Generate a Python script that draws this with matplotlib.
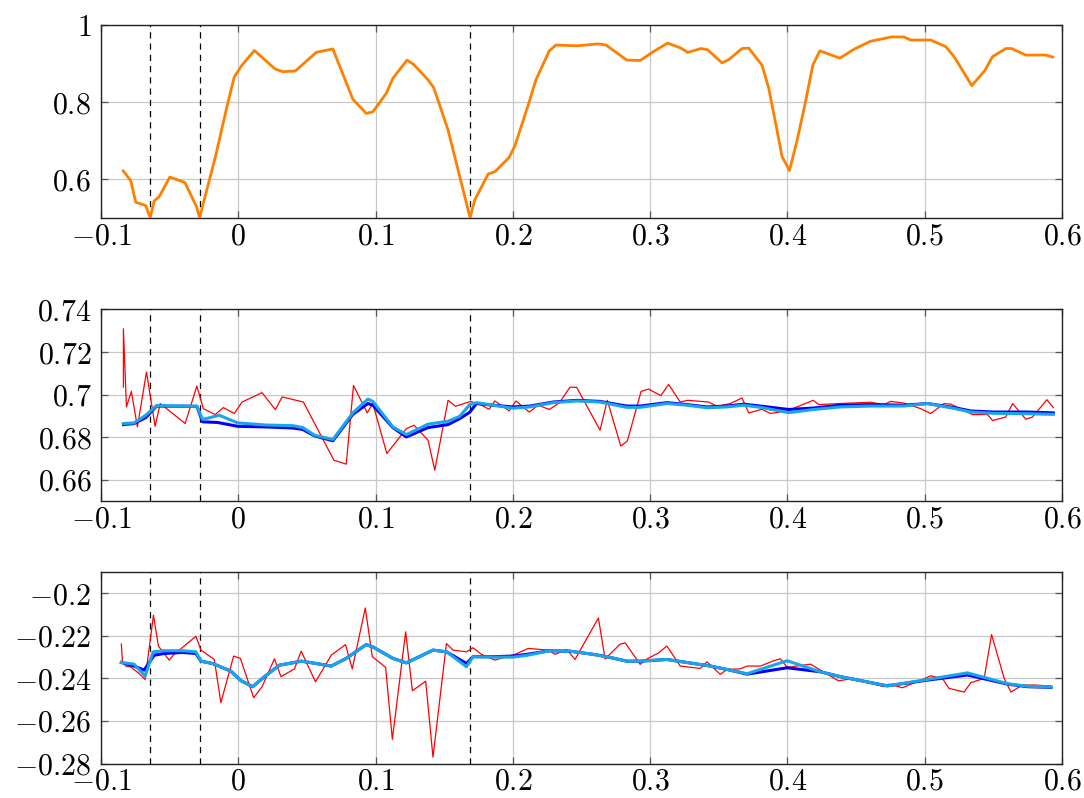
import matplotlib
matplotlib.use("Agg")
import matplotlib.pyplot as plt
from matplotlib.ticker import FuncFormatter

plt.rcParams['mathtext.fontset'] = 'cm'
plt.rcParams['font.family'] = ['DejaVu Serif']

# ---------------- data ----------------
vlines_x = [-0.0642, -0.0282, 0.1688]

top_x = [-0.0839, -0.0820, -0.0783, -0.0747, -0.0674, -0.0642, -0.0613, -0.0577, -0.0499, -0.0389,
         -0.0304, -0.0282, -0.0236, -0.0168, -0.0083, -0.0029, 0.0027, 0.0117, 0.0268, 0.0324,
         0.0416, 0.0567, 0.0689, 0.0834, 0.0932, 0.0980, 0.1078, 0.1126, 0.1229, 0.1277,
         0.1382, 0.1423, 0.1528, 0.1688, 0.1723, 0.1820, 0.1869, 0.1973, 0.2015, 0.2112,
         0.2168, 0.2265, 0.2314, 0.2465, 0.2623, 0.2679, 0.2830, 0.2927, 0.3024, 0.3127,
         0.3219, 0.3275, 0.3370, 0.3418, 0.3523, 0.3572, 0.3669, 0.3718, 0.3815, 0.3864,
         0.3912, 0.3961, 0.4015, 0.4071, 0.4124, 0.4185, 0.4236, 0.4382, 0.4484, 0.4606,
         0.4679, 0.4757, 0.4849, 0.4898, 0.5044, 0.5153, 0.5214, 0.5343, 0.5438, 0.5494,
         0.5591, 0.5633, 0.5737, 0.5883, 0.5932]
top_y = [0.622, 0.614, 0.596, 0.541, 0.532, 0.501, 0.544, 0.555, 0.606, 0.592,
         0.529, 0.501, 0.564, 0.657, 0.788, 0.866, 0.896, 0.934, 0.886, 0.879,
         0.881, 0.929, 0.938, 0.808, 0.771, 0.775, 0.823, 0.862, 0.909, 0.898,
         0.858, 0.838, 0.728, 0.501, 0.547, 0.614, 0.620, 0.657, 0.687, 0.793,
         0.858, 0.933, 0.948, 0.946, 0.951, 0.948, 0.909, 0.908, 0.931, 0.953,
         0.941, 0.929, 0.939, 0.936, 0.902, 0.910, 0.939, 0.940, 0.896, 0.836,
         0.749, 0.659, 0.623, 0.702, 0.788, 0.896, 0.933, 0.914, 0.937, 0.958,
         0.963, 0.969, 0.969, 0.961, 0.961, 0.944, 0.918, 0.843, 0.882, 0.918,
         0.939, 0.939, 0.922, 0.922, 0.917]

mid_red_x = [-0.0837, -0.0837, -0.0815, -0.0779, -0.0735, -0.0669, -0.0606, -0.0569, -0.0387, -0.0302,
             -0.0255, -0.0168, -0.0109, -0.0029, 0.0027, 0.0173, 0.0270, 0.0319, 0.0474, 0.0696,
             0.0786, 0.0839, 0.0939, 0.0980, 0.1082, 0.1224, 0.1280, 0.1382, 0.1431, 0.1528,
             0.1582, 0.1693, 0.1771, 0.1827, 0.1869, 0.1973, 0.2022, 0.2119, 0.2185, 0.2265,
             0.2338, 0.2416, 0.2465, 0.2635, 0.2688, 0.2786, 0.2834, 0.2934, 0.2988, 0.3078,
             0.3134, 0.3219, 0.3275, 0.3426, 0.3487, 0.3584, 0.3669, 0.3718, 0.3815, 0.3876,
             0.3998, 0.4188, 0.4229, 0.4387, 0.4606, 0.4703, 0.4752, 0.4849, 0.4971, 0.5044,
             0.5141, 0.5190, 0.5348, 0.5458, 0.5494, 0.5591, 0.5640, 0.5737, 0.5786, 0.5890,
             0.5937]
mid_red_y = [0.7035, 0.7309, 0.6942, 0.7015, 0.6848, 0.7106, 0.6851, 0.6958, 0.6864, 0.7040,
             0.6934, 0.6906, 0.6939, 0.6911, 0.6965, 0.7009, 0.6929, 0.6989, 0.6965, 0.6692,
             0.6673, 0.7043, 0.6914, 0.6958, 0.6723, 0.6840, 0.6856, 0.6786, 0.6645, 0.6973,
             0.6945, 0.6968, 0.6950, 0.6931, 0.6970, 0.6923, 0.6970, 0.6918, 0.6950, 0.6930,
             0.6961, 0.7035, 0.7034, 0.6833, 0.6973, 0.6758, 0.6782, 0.7015, 0.7026, 0.6995,
             0.7048, 0.6965, 0.6973, 0.6965, 0.6945, 0.6958, 0.6984, 0.6914, 0.6931, 0.6911,
             0.6923, 0.6973, 0.6953, 0.6958, 0.6964, 0.6953, 0.6968, 0.6960, 0.6934, 0.6911,
             0.6958, 0.6955, 0.6906, 0.6906, 0.6878, 0.6895, 0.6958, 0.6884, 0.6895, 0.6976,
             0.6939]

mid_blue_x = [-0.0837, -0.0759, -0.0674, -0.0596, -0.0302, -0.0260, -0.0151, -0.0005, 0.0202, 0.0397,
              0.0470, 0.0555, 0.0689, 0.0834, 0.0944, 0.0980, 0.1126, 0.1224, 0.1382, 0.1528,
              0.1613, 0.1686, 0.1735, 0.1856, 0.2002, 0.2124, 0.2294, 0.2465, 0.2635, 0.2830,
              0.2927, 0.3122, 0.3268, 0.3414, 0.3560, 0.3681, 0.3803, 0.4010, 0.4192, 0.4387,
              0.4606, 0.4849, 0.5020, 0.5214, 0.5336, 0.5506, 0.5750, 0.5937]
mid_blue_y = [0.6859, 0.6864, 0.6892, 0.6946, 0.6945, 0.6872, 0.6869, 0.6851, 0.6848, 0.6843,
              0.6836, 0.6806, 0.6783, 0.6907, 0.6958, 0.6950, 0.6845, 0.6801, 0.6845, 0.6859,
              0.6887, 0.6917, 0.6958, 0.6950, 0.6942, 0.6946, 0.6965, 0.6973, 0.6968, 0.6946,
              0.6946, 0.6962, 0.6953, 0.6942, 0.6946, 0.6955, 0.6946, 0.6930, 0.6937, 0.6950,
              0.6953, 0.6950, 0.6958, 0.6939, 0.6923, 0.6918, 0.6918, 0.6914]

mid_cyan_x = [-0.0837, -0.0759, -0.0674, -0.0596, -0.0302, -0.0260, -0.0139, -0.0005, 0.0202, 0.0397,
              0.0470, 0.0555, 0.0689, 0.0834, 0.0944, 0.0980, 0.1126, 0.1224, 0.1382, 0.1528,
              0.1613, 0.1686, 0.1735, 0.1856, 0.2002, 0.2124, 0.2294, 0.2465, 0.2635, 0.2830,
              0.2927, 0.3122, 0.3268, 0.3414, 0.3560, 0.3681, 0.3803, 0.4010, 0.4192, 0.4387,
              0.4606, 0.4849, 0.5020, 0.5214, 0.5336, 0.5506, 0.5750, 0.5937]
mid_cyan_y = [0.6864, 0.6867, 0.6903, 0.6948, 0.6945, 0.6883, 0.6903, 0.6867, 0.6857, 0.6854,
              0.6845, 0.6809, 0.6789, 0.6914, 0.6979, 0.6968, 0.6848, 0.6812, 0.6861, 0.6875,
              0.6898, 0.6953, 0.6962, 0.6950, 0.6936, 0.6942, 0.6962, 0.6970, 0.6965, 0.6940,
              0.6940, 0.6958, 0.6950, 0.6938, 0.6942, 0.6950, 0.6940, 0.6915, 0.6930, 0.6942,
              0.6946, 0.6946, 0.6958, 0.6935, 0.6918, 0.6912, 0.6910, 0.6907]

bot_red_x = [-0.0852, -0.0844, -0.0820, -0.0779, -0.0723, -0.0679, -0.0618, -0.0582, -0.0504, -0.0467,
             -0.0387, -0.0309, -0.0272, -0.0175, -0.0127, -0.0034, 0.0015, 0.0112, 0.0173, 0.0263,
             0.0311, 0.0409, 0.0458, 0.0562, 0.0677, 0.0781, 0.0830, 0.0925, 0.0976, 0.1073,
             0.1122, 0.1219, 0.1268, 0.1365, 0.1418, 0.1516, 0.1564, 0.1662, 0.1710, 0.1771,
             0.1869, 0.1954, 0.2015, 0.2112, 0.2258, 0.2307, 0.2392, 0.2453, 0.2623, 0.2672,
             0.2781, 0.2818, 0.2927, 0.2976, 0.3061, 0.3122, 0.3219, 0.3365, 0.3414, 0.3511,
             0.3560, 0.3657, 0.3706, 0.3803, 0.3900, 0.3949, 0.3998, 0.4168, 0.4241, 0.4363,
             0.4375, 0.4484, 0.4606, 0.4703, 0.4740, 0.4837, 0.4971, 0.5044, 0.5129, 0.5177,
             0.5287, 0.5336, 0.5433, 0.5487, 0.5579, 0.5628, 0.5713, 0.5798, 0.5920]
bot_red_y = [-0.2239, -0.2322, -0.2342, -0.2348, -0.2377, -0.2405, -0.2103, -0.2248, -0.2314, -0.2286,
             -0.2244, -0.2202, -0.2267, -0.2311, -0.2514, -0.2295, -0.2306, -0.2491, -0.2439, -0.2308,
             -0.2392, -0.2355, -0.2272, -0.2416, -0.2291, -0.2241, -0.2355, -0.2069, -0.2298, -0.2348,
             -0.2686, -0.2181, -0.2458, -0.2413, -0.2770, -0.2236, -0.2267, -0.2275, -0.2256, -0.2287,
             -0.2314, -0.2298, -0.2287, -0.2259, -0.2267, -0.2287, -0.2264, -0.2311, -0.2116, -0.2309,
             -0.2239, -0.2233, -0.2334, -0.2309, -0.2280, -0.2248, -0.2342, -0.2353, -0.2322, -0.2381,
             -0.2358, -0.2355, -0.2342, -0.2342, -0.2317, -0.2308, -0.2348, -0.2333, -0.2361, -0.2408,
             -0.2411, -0.2400, -0.2423, -0.2439, -0.2427, -0.2444, -0.2408, -0.2388, -0.2400, -0.2447,
             -0.2464, -0.2420, -0.2400, -0.2194, -0.2400, -0.2464, -0.2431, -0.2431, -0.2436]

bot_blue_x = [-0.0852, -0.0759, -0.0686, -0.0613, -0.0540, -0.0407, -0.0309, -0.0272, -0.0187, -0.0054,
              0.0020, 0.0105, 0.0190, 0.0299, 0.0458, 0.0567, 0.0677, 0.0786, 0.0932, 0.0980,
              0.1126, 0.1224, 0.1418, 0.1516, 0.1662, 0.1710, 0.1856, 0.2002, 0.2100, 0.2270,
              0.2416, 0.2586, 0.2684, 0.2830, 0.2927, 0.3122, 0.3316, 0.3438, 0.3560, 0.3706,
              0.3998, 0.4241, 0.4387, 0.4727, 0.5020, 0.5312, 0.5604, 0.5750, 0.5920]
bot_blue_y = [-0.2325, -0.2342, -0.2361, -0.2291, -0.2283, -0.2278, -0.2283, -0.2319, -0.2330, -0.2366,
              -0.2411, -0.2439, -0.2392, -0.2338, -0.2319, -0.2330, -0.2342, -0.2306, -0.2241, -0.2252,
              -0.2306, -0.2327, -0.2267, -0.2275, -0.2330, -0.2298, -0.2298, -0.2295, -0.2287, -0.2270,
              -0.2272, -0.2287, -0.2298, -0.2319, -0.2319, -0.2311, -0.2330, -0.2342, -0.2358, -0.2380,
              -0.2350, -0.2369, -0.2392, -0.2435, -0.2408, -0.2384, -0.2427, -0.2439, -0.2442]

bot_cyan_x = [-0.0852, -0.0759, -0.0679, -0.0620, -0.0540, -0.0407, -0.0309, -0.0272, -0.0187, -0.0054,
              0.0020, 0.0105, 0.0190, 0.0299, 0.0458, 0.0567, 0.0677, 0.0786, 0.0932, 0.0980,
              0.1126, 0.1224, 0.1418, 0.1516, 0.1662, 0.1710, 0.1856, 0.2002, 0.2100, 0.2270,
              0.2416, 0.2586, 0.2684, 0.2830, 0.2927, 0.3122, 0.3316, 0.3438, 0.3560, 0.3706,
              0.3998, 0.4241, 0.4387, 0.4727, 0.5020, 0.5312, 0.5604, 0.5750, 0.5920]
bot_cyan_y = [-0.2325, -0.2333, -0.2389, -0.2275, -0.2270, -0.2270, -0.2275, -0.2319, -0.2330, -0.2366,
              -0.2411, -0.2439, -0.2392, -0.2338, -0.2319, -0.2330, -0.2342, -0.2306, -0.2241, -0.2252,
              -0.2306, -0.2327, -0.2267, -0.2275, -0.2345, -0.2298, -0.2300, -0.2300, -0.2292, -0.2270,
              -0.2272, -0.2287, -0.2298, -0.2319, -0.2319, -0.2311, -0.2330, -0.2342, -0.2358, -0.2378,
              -0.2317, -0.2369, -0.2392, -0.2435, -0.2405, -0.2374, -0.2425, -0.2437, -0.2440]

x_ticks = [-0.1, 0, 0.1, 0.2, 0.3, 0.4, 0.5, 0.6]
top_yticks = [0.6, 0.8, 1.0]
mid_yticks = [0.66, 0.68, 0.70, 0.72, 0.74]
bot_yticks = [-0.28, -0.26, -0.24, -0.22, -0.20]

ORANGE = '#ff7f00'
RED = '#ff0000'
BLUE = '#0000ff'
CYAN = '#1aa6e6'


def fmt(v, pos=None):
    s = ('%.2f' % v).rstrip('0').rstrip('.')
    if s in ('-0', ''):
        s = '0'
    return r'$%s$' % s


fig = plt.figure(figsize=(10.84, 7.98), dpi=100)
W = 0.8865
L = 0.0932
ax1 = fig.add_axes([L, 0.7268, W, 0.2419])
ax2 = fig.add_axes([L, 0.3722, W, 0.2400])
ax3 = fig.add_axes([L, 0.0432, W, 0.2400])


def style(ax, ylim, yticks):
    ax.set_xlim(-0.1, 0.6)
    ax.set_ylim(*ylim)
    ax.set_xticks(x_ticks)
    ax.set_yticks(yticks)
    ax.xaxis.set_major_formatter(FuncFormatter(fmt))
    ax.yaxis.set_major_formatter(FuncFormatter(fmt))
    ax.grid(True, color='#c8c8c8', linewidth=0.9)
    ax.set_axisbelow(True)
    ax.tick_params(direction='in', length=5, width=0.9, color='#555555',
                   top=True, right=True, labelsize=21.5)
    ax.tick_params(axis='x', pad=3)
    ax.tick_params(axis='y', pad=7)
    for sp in ax.spines.values():
        sp.set_linewidth(1.0)
        sp.set_color('#222222')
    for xv in vlines_x:
        ax.axvline(xv, color='black', linewidth=0.9, linestyle=(0, (5, 4)), zorder=3)


style(ax1, (0.5, 1.0), top_yticks)
ax1.plot(top_x, top_y, color=ORANGE, linewidth=2.0, zorder=4)

style(ax2, (0.65, 0.74), mid_yticks)
ax2.plot(mid_red_x, mid_red_y, color=RED, linewidth=0.9, zorder=4)
ax2.plot(mid_blue_x, mid_blue_y, color=BLUE, linewidth=2.2, zorder=5)
ax2.plot(mid_cyan_x, mid_cyan_y, color=CYAN, linewidth=2.2, zorder=6)

style(ax3, (-0.28, -0.19), bot_yticks)
ax3.plot(bot_red_x, bot_red_y, color=RED, linewidth=0.9, zorder=4)
ax3.plot(bot_blue_x, bot_blue_y, color=BLUE, linewidth=2.2, zorder=5)
ax3.plot(bot_cyan_x, bot_cyan_y, color=CYAN, linewidth=2.2, zorder=6)

fig.savefig('out.png', dpi=100)
